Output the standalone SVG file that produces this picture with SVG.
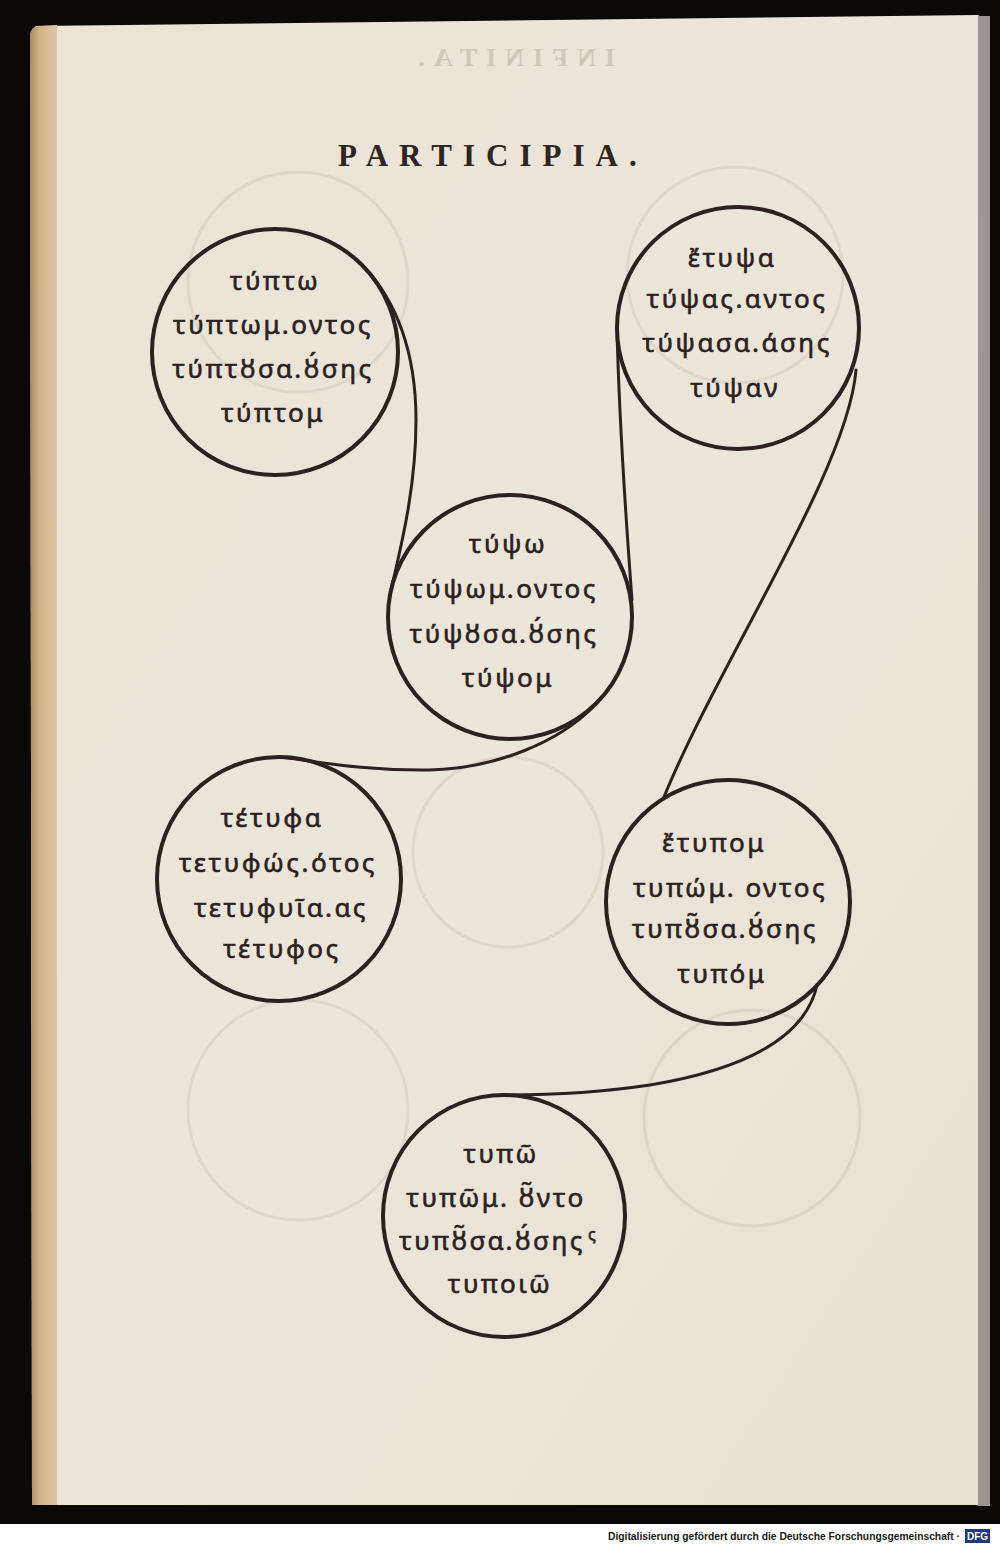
<svg xmlns="http://www.w3.org/2000/svg" width="1000" height="1546" viewBox="0 0 1000 1546">
  <defs>
    <linearGradient id="spine" x1="0" y1="0" x2="1" y2="0">
      <stop offset="0" stop-color="#a88a5e"/>
      <stop offset="0.35" stop-color="#d2b287"/>
      <stop offset="1" stop-color="#dcc7a4"/>
    </linearGradient>
    <linearGradient id="paper" x1="0" y1="0" x2="1" y2="1">
      <stop offset="0" stop-color="#eae4d6"/>
      <stop offset="0.5" stop-color="#ebe6da"/>
      <stop offset="1" stop-color="#e7e1d2"/>
    </linearGradient>
    <style>
      .ring { fill: none; stroke: #2b211e; stroke-width: 4; }
      .link { fill: none; stroke: #2b211e; stroke-width: 3; stroke-linecap: round; }
      .ghost { fill: none; stroke: #b9b1a2; stroke-width: 3; opacity: 0.25; }
      .gk { font-family: "Noto Sans", "DejaVu Sans", sans-serif; font-size: 26px; fill: #2b211e; stroke: #2b211e; stroke-width: 0.6px; text-anchor: middle; letter-spacing: 2.5px; }
      .title { font-family: "Liberation Serif", serif; font-weight: bold; font-size: 31px; fill: #2e2420; letter-spacing: 11px; }
      .foot { font-family: "Liberation Sans", sans-serif; font-weight: bold; font-size: 10.5px; fill: #1a1a1a; }
    </style>
  </defs>

  <!-- background -->
  <rect x="0" y="0" width="1000" height="1546" fill="#0b0907"/>
  <path d="M36,26 L978,15 L986,20 L986,1505 L32,1505 L30,34 Z" fill="url(#paper)"/>
  <path d="M30,34 Q31,27 38,26 L57,25 L57,1505 L32,1505 Z" fill="url(#spine)"/>
  <rect x="978" y="16" width="12" height="1490" fill="#9b968f"/>
  <rect x="0" y="1524" width="1000" height="22" fill="#ffffff"/>

  <!-- faint show-through from the reverse page -->
  <g id="showthrough">
    <text x="-615" y="66" transform="scale(-1,1)" style="font-family:'Liberation Serif',serif;font-weight:bold;font-size:26px;fill:#cfc7b8;letter-spacing:9px">INFINITA.</text>
    <circle class="ghost" cx="298" cy="282" r="110"/>
    <circle class="ghost" cx="735" cy="275" r="108"/>
    <circle class="ghost" cx="508" cy="852" r="95"/>
    <circle class="ghost" cx="298" cy="1110" r="110"/>
    <circle class="ghost" cx="752" cy="1118" r="108"/>
  </g>

  <!-- title -->
  <text id="title" class="title" x="338" y="166">PARTICIPIA.</text>

  <!-- connectors -->
  <g id="connectors">
    <path class="link" d="M365,268 C395,300 416,350 416,420 C416,490 400,550 391,590"/>
    <path class="link" d="M617,328 C619,420 626,520 632,600"/>
    <path class="link" d="M592,708 C560,740 500,768 430,770 C360,771 310,760 279,757"/>
    <path class="link" d="M856,370 C848,470 720,660 664,797"/>
    <path class="link" d="M817,985 C805,1040 740,1070 650,1085 C590,1094 545,1095 505,1095"/>
  </g>

  <!-- nodes -->
  <g id="node1">
    <circle class="ring" cx="275" cy="352" r="123"/>
    <text class="gk" x="275" y="290">τύπτω</text>
    <text class="gk" x="273" y="334">τύπτωμ.οντος</text>
    <text class="gk" x="273" y="378">τύπτȣσα.ȣ́σης</text>
    <text class="gk" x="273" y="422">τύπτομ</text>
  </g>

  <g id="node2">
    <circle class="ring" cx="738" cy="328" r="121"/>
    <text class="gk" x="732" y="267">ἔτυψα</text>
    <text class="gk" x="737" y="308">τύψας.αντος</text>
    <text class="gk" x="737" y="352">τύψασα.άσης</text>
    <text class="gk" x="735" y="397">τύψαν</text>
  </g>

  <g id="node3">
    <circle class="ring" cx="510" cy="617" r="122"/>
    <text class="gk" x="508" y="553">τύψω</text>
    <text class="gk" x="504" y="598">τύψωμ.οντος</text>
    <text class="gk" x="504" y="643">τύψȣσα.ȣ́σης</text>
    <text class="gk" x="508" y="687">τύψομ</text>
  </g>

  <g id="node4">
    <circle class="ring" cx="279" cy="879" r="122"/>
    <text class="gk" x="272" y="827">τέτυφα</text>
    <text class="gk" x="278" y="872">τετυφώς.ότος</text>
    <text class="gk" x="281" y="917">τετυφυῖα.ας</text>
    <text class="gk" x="282" y="958">τέτυφος</text>
  </g>

  <g id="node5">
    <circle class="ring" cx="728" cy="902" r="122"/>
    <text class="gk" x="714" y="852">ἔτυπομ</text>
    <text class="gk" x="730" y="897">τυπώμ. οντος</text>
    <text class="gk" x="725" y="938">τυπȣ̃σα.ȣ́σης</text>
    <text class="gk" x="722" y="983">τυπόμ</text>
  </g>

  <g id="node6">
    <circle class="ring" cx="504" cy="1216" r="121"/>
    <text class="gk" x="501" y="1163">τυπῶ</text>
    <text class="gk" x="496" y="1207">τυπῶμ. ȣ̃ντο</text>
    <text class="gk" x="492" y="1250">τυπȣ̃σα.ȣ́σης</text>
    <text class="gk" x="592" y="1240" style="font-size:16px;letter-spacing:0">ς</text>
    <text class="gk" x="500" y="1293">τυποιῶ</text>
  </g>

  <!-- footer -->
  <g id="footer">
    <text class="foot" x="960" y="1540" text-anchor="end" textLength="352" lengthAdjust="spacingAndGlyphs">Digitalisierung gefördert durch die Deutsche Forschungsgemeinschaft ·</text>
    <rect x="965" y="1529" width="25" height="14" fill="#1f3a78"/>
    <text x="977.5" y="1540" text-anchor="middle" style="font-family:'Liberation Sans',sans-serif;font-weight:bold;font-size:10px;fill:#ffffff">DFG</text>
  </g>
</svg>
